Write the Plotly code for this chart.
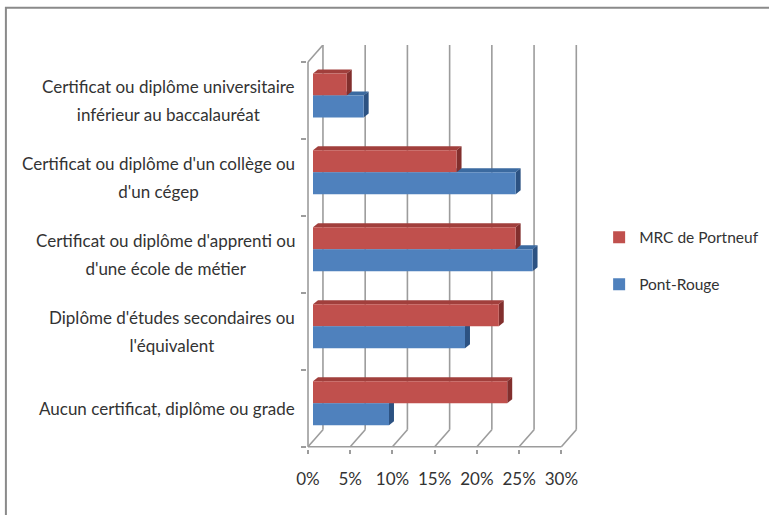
import plotly.graph_objects as go

categories = [
    "Aucun certificat, diplôme ou grade",
    "Diplôme d'études secondaires ou<br>l'équivalent",
    "Certificat ou diplôme d'apprenti ou<br>d'une école de métier",
    "Certificat ou diplôme d'un collège ou<br>d'un cégep",
    "Certificat ou diplôme universitaire<br>inférieur au baccalauréat",
]
pont_rouge = [9, 18, 26, 24, 6]
mrc_portneuf = [23, 22, 24, 17, 4]
x_ticks = [0, 5, 10, 15, 20, 25, 30]

FONT = "Lato"
TXT = "#333333"
GRID = "#9c9c9c"

# fake 3d look (Excel style): depth offsets in axis units
bar_w = 0.286
shift = 0.065
face_dx = 0.59
face_dy = 0.052
front_dx = -0.59
back_dx = 1.18
wall_dy = 0.22

idx = list(range(len(categories)))

series = [
    ("Pont-Rouge", pont_rouge, "#4f81bd", "#3b6aa0", "#2c5282", shift - bar_w),
    ("MRC de Portneuf", mrc_portneuf, "#c0504d", "#a13f3c", "#822f2d", shift),
]

fig = go.Figure()
shapes = []

# walls / floor
floor = -0.5
for t in x_ticks:
    shapes.append(dict(type="line", x0=t + back_dx, x1=t + back_dx,
                       y0=floor + wall_dy, y1=len(categories) - 0.5 + wall_dy))
    shapes.append(dict(type="line", x0=t + front_dx, x1=t + back_dx,
                       y0=floor, y1=floor + wall_dy))
shapes.append(dict(type="line", x0=x_ticks[0] + front_dx, x1=x_ticks[-1] + front_dx,
                   y0=floor, y1=floor))
shapes.append(dict(type="line", x0=front_dx, x1=front_dx,
                   y0=floor, y1=len(categories) - 0.5))
shapes.append(dict(type="line", x0=front_dx, x1=back_dx,
                   y0=len(categories) - 0.5, y1=len(categories) - 0.5 + wall_dy))
for s in shapes:
    s.update(xref="x", yref="y", layer="between", line=dict(color=GRID, width=1.6))

# depth faces, blue first so the red bars sit on top of them
for name, vals, col, top_col, side_col, off in series:
    for i, v in zip(idx, vals):
        b = i + off
        tp = b + bar_w
        shapes.append(dict(
            type="path", xref="x", yref="y", layer="between", line=dict(width=0),
            fillcolor=top_col,
            path=f"M0,{tp} L{v},{tp} L{v + face_dx},{tp + face_dy} L{face_dx},{tp + face_dy} Z",
        ))
        shapes.append(dict(
            type="path", xref="x", yref="y", layer="between", line=dict(width=0),
            fillcolor=side_col,
            path=f"M{v},{b} L{v},{tp} L{v + face_dx},{tp + face_dy} L{v + face_dx},{b + face_dy} Z",
        ))

# traces added MRC first so the legend lists it on top
for name, vals, col, top_col, side_col, off in reversed(series):
    fig.add_trace(go.Bar(
        y=idx, x=vals, orientation="h", name=name, legendgroup=name,
        width=bar_w, offset=off, marker=dict(color=col, line=dict(width=0)),
        hovertemplate="%{x}%<extra>" + name + "</extra>",
    ))

# outer frame
shapes.append(dict(type="rect", xref="paper", yref="paper", x0=-1.107, x1=1.8,
                   y0=-0.3, y1=1.092, line=dict(color="#8a8a8a", width=2),
                   fillcolor="rgba(0,0,0,0)", layer="below"))

# category labels, centred blocks with Excel-like line spacing
annotations = []
for i, cat in zip(idx, categories):
    lines = cat.split("<br>")
    txt = "<br><br>".join(f"<span style='font-size:17px'>{l}</span>" for l in lines)
    annotations.append(dict(
        x=-0.036, xref="paper", y=i, yref="y", xanchor="right", yanchor="middle",
        align="center", showarrow=False, text=txt,
        font=dict(family=FONT, size=10.8, color=TXT),
    ))

fig.update_layout(
    width=769, height=515,
    margin=dict(l=307, r=190, t=45, b=66, autoexpand=False),
    barmode="overlay",
    paper_bgcolor="white", plot_bgcolor="white",
    shapes=shapes, annotations=annotations,
    font=dict(family=FONT, size=17, color=TXT),
    legend=dict(x=1.074, y=0.465, xanchor="left", yanchor="middle",
                traceorder="grouped", tracegroupgap=24,
                font=dict(family=FONT, size=15.5, color=TXT)),
)
fig.update_xaxes(
    range=[-0.71, 31.5], showgrid=False, zeroline=False, showline=False,
    automargin=False,
    tickvals=[t + front_dx for t in x_ticks], ticktext=[f"{t}%" for t in x_ticks],
    ticks="outside", ticklen=4, tickcolor=GRID, tickwidth=1.5,
    ticklabelstandoff=11, tickfont=dict(family=FONT, size=17, color=TXT),
)
fig.update_yaxes(
    range=[-0.53, 4.72], showgrid=False, zeroline=False, showline=False,
    automargin=False,
    showticklabels=False, ticks="", tickvals=idx,
    minor=dict(tickvals=[i - 0.5 for i in range(len(categories) + 1)],
               ticks="outside", ticklen=5, tickcolor=GRID, tickwidth=1.5),
)

fig.write_html("out.html", config={"displayModeBar": False},
               post_script="document.body.style.margin='0';")
